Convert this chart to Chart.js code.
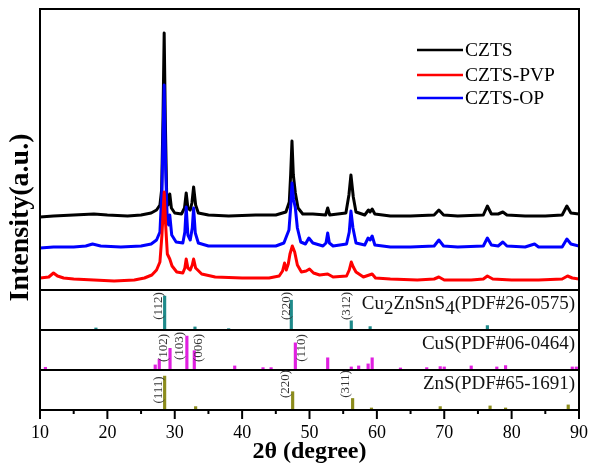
<!DOCTYPE html>
<html>
<head>
<meta charset="utf-8">
<script src="https://cdn.jsdelivr.net/npm/chart.js@4.4.1/dist/chart.umd.min.js"></script>
<style>
  html, body { margin: 0; padding: 0; background: #fff; }
  canvas { display: block; }
</style>
</head>
<body>
<canvas id="xrdChart" width="600" height="468"></canvas>
<script>
// measured patterns: [2θ (degree), intensity (a.u.)], curves already offset for stacking
const cztsPattern = [
  [10, 730], [12, 740], [15, 750], [18, 760], [20, 750], [23, 740], [25, 750], [26.5, 770],
  [27.3, 800], [27.8, 850], [28.05, 1000], [28.25, 1700], [28.43, 2570], [28.6, 1700], [28.8, 950],
  [29.0, 850], [29.26, 960], [29.5, 820], [30.0, 770], [31.0, 760], [31.45, 820], [31.7, 970],
  [31.95, 820], [32.3, 800], [32.55, 870], [32.8, 1030], [33.1, 850], [33.5, 770], [35, 750],
  [38, 740], [42, 750], [45, 750], [46.5, 780], [47.0, 880], [47.2, 1150], [47.4, 1490],
  [47.6, 1150], [47.9, 970], [48.3, 820], [49, 760], [50.5, 760], [52.4, 750], [52.7, 820],
  [53.0, 750], [55.4, 770], [55.85, 950], [56.15, 1150], [56.5, 930], [56.9, 780], [58.2, 750],
  [58.75, 800], [59.0, 780], [59.3, 810], [59.7, 760], [62, 740], [65, 740], [68.5, 750],
  [69.2, 800], [69.9, 750], [72, 740], [75.8, 750], [76.4, 840], [77.0, 760], [78.0, 760],
  [78.7, 780], [79.3, 750], [82, 740], [85, 740], [87.5, 750], [88.2, 840], [88.8, 770], [90, 760]
];
const cztsPvpPattern = [
  [10, 120], [11.3, 130], [12.0, 170], [12.6, 140], [13.5, 120], [15, 110], [18, 100], [21, 90],
  [24, 100], [25.5, 120], [26.6, 150], [27.3, 200], [27.8, 280], [28.1, 550], [28.43, 980],
  [28.65, 650], [28.9, 360], [29.26, 310], [29.6, 240], [30.3, 180], [31.2, 170], [31.5, 220],
  [31.7, 310], [31.95, 220], [32.3, 200], [32.6, 250], [32.8, 310], [33.1, 220], [34, 160],
  [36, 130], [40, 120], [44, 120], [45.5, 140], [46.0, 190], [46.3, 270], [46.55, 200],
  [46.85, 260], [47.1, 360], [47.45, 440], [47.8, 380], [48.2, 250], [48.8, 180], [49.5, 190],
  [50.0, 210], [50.6, 170], [51.5, 150], [52.7, 160], [53.5, 130], [55.5, 140], [55.9, 200],
  [56.2, 280], [56.5, 230], [56.9, 180], [58, 130], [59.3, 160], [59.8, 120], [62, 110],
  [66, 100], [68.5, 110], [69.2, 130], [70, 100], [74, 100], [75.8, 110], [76.4, 140],
  [77.2, 110], [80, 100], [84, 100], [87.5, 110], [88.3, 140], [89, 120], [90, 110]
];
const cztsOpPattern = [
  [10, 420], [12, 430], [15, 430], [16.8, 440], [17.8, 460], [19, 440], [22, 430], [25, 440],
  [26.5, 460], [27.3, 500], [27.8, 580], [28.1, 1000], [28.43, 2050], [28.65, 1200], [28.9, 680],
  [29.1, 650], [29.26, 750], [29.55, 550], [30.2, 480], [31.2, 470], [31.5, 580], [31.7, 830],
  [31.95, 550], [32.3, 500], [32.6, 620], [32.8, 820], [33.05, 570], [33.5, 470], [35, 440],
  [40, 440], [45, 440], [46.2, 470], [46.6, 540], [46.95, 600], [47.2, 820], [47.4, 1070],
  [47.65, 900], [47.9, 820], [48.2, 620], [48.7, 480], [49.4, 460], [49.9, 520], [50.5, 470],
  [52.0, 440], [52.45, 470], [52.7, 570], [52.95, 470], [53.5, 440], [55.5, 460], [55.9, 580],
  [56.15, 790], [56.45, 620], [56.9, 470], [58.2, 450], [58.7, 520], [59.0, 500], [59.3, 540],
  [59.7, 450], [62, 430], [65, 430], [68.5, 440], [69.2, 500], [69.9, 440], [72, 430],
  [75.8, 440], [76.4, 520], [77.0, 450], [78.0, 440], [78.7, 480], [79.3, 440], [82, 430],
  [83.4, 460], [84, 430], [87.5, 430], [88.2, 510], [88.8, 460], [90, 440]
];

// reference cards: 2θ positions and relative intensities
const cztsRefTheta = [18.3, 28.5, 33.0, 38.0, 47.3, 56.2, 59.0, 76.4];
const cztsRefInt = [6, 100, 9, 4, 88, 27, 10, 13];
const cusRefTheta = [10.8, 27.1, 27.7, 29.3, 31.8, 32.9, 38.9, 43.1, 44.3, 47.9, 52.7, 56.2,
  57.3, 58.7, 59.3, 63.5, 67.4, 69.4, 70.0, 74.0, 77.8, 79.1, 89.0, 89.6];
const cusRefInt = [8, 15, 32, 64, 100, 57, 12, 7, 7, 80, 36, 9,
  12, 18, 36, 6, 7, 10, 9, 12, 9, 13, 9, 9];
const znsRefTheta = [28.5, 33.1, 47.5, 56.4, 59.2, 69.4, 76.8, 79.1, 88.4];
const znsRefInt = [100, 10, 54, 34, 6, 10, 12, 6, 15];

// hkl indexing
const cztsHkl = ['(112)', '(220)', '(312)'];
const cztsHklTheta = [28.5, 47.3, 56.2];
const cusHkl = ['(102)', '(103)', '(006)', '(110)'];
const cusHklTheta = [29.3, 31.8, 32.9, 47.9];
const znsHkl = ['(111)', '(220)', '(311)'];
const znsHklTheta = [28.5, 47.5, 56.4];

const refCards = ['Cu2ZnSnS4(PDF#26-0575)', 'CuS(PDF#06-0464)', 'ZnS(PDF#65-1691)'];
const seriesNames = ['CZTS', 'CZTS-PVP', 'CZTS-OP'];
const thetaTicks = [10, 20, 30, 40, 50, 60, 70, 80, 90];

const SERIF = "'Times New Roman', 'Liberation Serif', serif";
const seriesColors = ['#000000', '#ff0000', '#0000ff'];
const refColors = ['#1f8a8a', '#e020e0', '#8c8c1c'];

const toPoints = pairs => pairs.map(([x, y]) => ({ x, y }));
const toSticks = (theta, inten) => theta.map((x, i) => ({ x, y: inten[i] }));

// label placement relative to the stick (px): [dx, dy from panel top]
const hklPlacement = [
  [[-6.5, 16], [-5, 16], [-5, 16]],
  [[-6.5, 18], [-7, 16], [4.5, 18], [6.5, 18]],
  [[-6, 20], [-7, 14], [-7, 14]]
];

const panelPlugin = {
  id: 'panels',
  afterDatasetsDraw(chart) {
    const { ctx, chartArea: { left, right, top, bottom }, scales } = chart;
    const refScales = [scales.yCzts, scales.yCus, scales.yZns];
    ctx.save();

    // panel frames
    ctx.strokeStyle = '#000';
    ctx.lineWidth = 2;
    [scales.y, ...refScales].forEach(s => {
      ctx.strokeRect(left, s.top, right - left, s.bottom - s.top);
    });

    // outward ticks, long at labelled values
    const xs = scales.x;
    xs.ticks.forEach(t => {
      const px = xs.getPixelForValue(t.value);
      const len = thetaTicks.includes(t.value) ? 9 : 4;
      ctx.beginPath();
      ctx.moveTo(px, bottom);
      ctx.lineTo(px, bottom + len);
      ctx.stroke();
    });

    // hkl labels
    ctx.fillStyle = '#333';
    ctx.font = '13px ' + SERIF;
    ctx.textAlign = 'center';
    ctx.textBaseline = 'middle';
    [[cztsHkl, cztsHklTheta], [cusHkl, cusHklTheta], [znsHkl, znsHklTheta]].forEach(([labels, theta], p) => {
      labels.forEach((lab, i) => {
        const [dx, dy] = hklPlacement[p][i];
        ctx.save();
        ctx.translate(xs.getPixelForValue(theta[i]) + dx, refScales[p].top + dy);
        ctx.rotate(-Math.PI / 2);
        ctx.fillText(lab, 0, 0);
        ctx.restore();
      });
    });

    // card names, digits in the formula as subscripts
    ctx.fillStyle = '#111';
    ctx.font = '19px ' + SERIF;
    ctx.textAlign = 'left';
    ctx.textBaseline = 'alphabetic';
    refCards.forEach((card, p) => {
      const cut = card.indexOf('(');
      const parts = card.slice(0, cut).split(/(\d+)/).filter(Boolean)
        .map(s => [s, /^\d+$/.test(s)]);
      parts.push([card.slice(cut), false]);
      const widths = parts.map(([s]) => ctx.measureText(s).width);
      let x = right - 4 - widths.reduce((a, b) => a + b, 0);
      const y = refScales[p].top + 18.5;
      parts.forEach(([s, sub], i) => {
        ctx.fillText(s, x, y + (sub ? 5 : 0));
        x += widths[i];
      });
    });

    // legend
    ctx.font = '19.5px ' + SERIF;
    ctx.textBaseline = 'middle';
    const rowY = [50, 75, 98];
    seriesNames.forEach((name, i) => {
      ctx.strokeStyle = seriesColors[i];
      ctx.lineWidth = 2.5;
      ctx.beginPath();
      ctx.moveTo(417, rowY[i]);
      ctx.lineTo(463, rowY[i]);
      ctx.stroke();
      ctx.fillStyle = '#000';
      ctx.fillText(name, 465, rowY[i] + 1);
    });

    // y axis title spanning all panels
    ctx.font = 'bold 28px ' + SERIF;
    ctx.textAlign = 'center';
    ctx.textBaseline = 'alphabetic';
    ctx.translate(28, (top + bottom) / 2 + 8);
    ctx.rotate(-Math.PI / 2);
    ctx.fillText('Intensity(a.u.)', 0, 0);
    ctx.restore();
  }
};

const hiddenY = (stackWeight, weight, max) => ({
  type: 'linear',
  position: 'left',
  stack: 'xrd',
  stackWeight,
  weight,
  min: 0,
  max,
  ticks: { display: false },
  grid: { display: false, drawTicks: false },
  border: { display: false },
  afterFit: s => { s.width = 0; }
});

const lineSet = (i, data, order) => ({
  type: 'line',
  label: seriesNames[i],
  data: toPoints(data),
  borderColor: seriesColors[i],
  borderWidth: 3,
  borderJoinStyle: 'round',
  pointRadius: 0,
  tension: 0,
  yAxisID: 'y',
  order
});

const stickSet = (p, theta, inten, axis) => ({
  type: 'bar',
  label: refCards[p],
  data: toSticks(theta, inten),
  backgroundColor: refColors[p],
  borderWidth: 0,
  barThickness: 2.5,
  grouped: false,
  yAxisID: axis
});

new Chart(document.getElementById('xrdChart'), {
  type: 'line',
  data: {
    datasets: [
      lineSet(0, cztsPattern, 2),
      lineSet(1, cztsPvpPattern, 0),
      lineSet(2, cztsOpPattern, 1),
      stickSet(0, cztsRefTheta, cztsRefInt, 'yCzts'),
      stickSet(1, cusRefTheta, cusRefInt, 'yCus'),
      stickSet(2, znsRefTheta, znsRefInt, 'yZns')
    ]
  },
  options: {
    responsive: false,
    animation: false,
    events: [],
    layout: { padding: { left: 40, right: 13, top: 9, bottom: 0 } },
    plugins: {
      legend: { display: false },
      tooltip: { enabled: false }
    },
    scales: {
      x: {
        type: 'linear',
        position: 'bottom',
        min: thetaTicks[0],
        max: thetaTicks[thetaTicks.length - 1],
        offset: false,
        grid: { display: false, drawTicks: false },
        border: { display: false },
        ticks: {
          stepSize: 5,
          autoSkip: false,
          maxRotation: 0,
          padding: 12,
          color: '#000',
          font: { family: SERIF, size: 18 },
          callback: v => (thetaTicks.includes(v) ? String(v) : '')
        },
        title: {
          display: true,
          text: '2θ (degree)',
          color: '#000',
          font: { family: SERIF, size: 24, weight: 'bold' },
          padding: { top: 0, bottom: 2 }
        },
        afterFit: s => { s.height = 58; }
      },
      y: hiddenY(281, 4, 2810),
      yCzts: hiddenY(40, 3, 118),
      yCus: hiddenY(40, 2, 118),
      yZns: hiddenY(40, 1, 118)
    }
  },
  plugins: [panelPlugin]
});
</script>
</body>
</html>
